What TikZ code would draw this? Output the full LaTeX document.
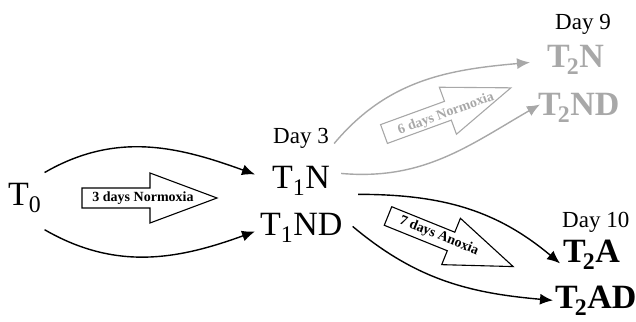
\documentclass[tikz,border=0pt]{standalone}
\usepackage{fontspec}
\setmainfont{Liberation Serif}
\usetikzlibrary{arrows.meta}
\definecolor{faded}{gray}{0.66}
\newcommand{\stagefont}{\fontsize{34}{36}\selectfont}
\newcommand{\dayfont}{\fontsize{23}{25}\selectfont}
\newcommand{\tagfont}{\fontsize{14}{16}\selectfont\bfseries}
\newcommand{\Ttwo}{T\kern-3pt\textsubscript{2}}

\tikzset{
  stage/.style={anchor=base west, inner sep=0pt, font=\stagefont},
  late/.style={stage, font=\stagefont\bfseries},
  day/.style={anchor=base west, inner sep=0pt, font=\dayfont},
  tag/.style={inner sep=0pt, font=\tagfont},
  link/.style={line width=1.4pt, -{Latex[length=13pt,width=11pt]}},
  fat arrow/.pic={
    \draw[pic actions] (0,-10) -- (68,-10) -- (68,-25) -- (135,0) -- (68,25) -- (68,10) -- (0,10) -- cycle;
  }
}

\begin{document}
\begin{tikzpicture}[x=1pt, y=-1pt]
    \useasboundingbox (0,0) rectangle (636,321);

    % stages
    \node[stage] (t0) at (8, 205) {T\textsubscript{0}};
    \node[day] (d3) at (273, 143) {Day 3};
    \node[stage] (t1n) at (272, 188) {T\textsubscript{1}N};
    \node[stage] (t1nd) at (260, 235) {T\textsubscript{1}ND};

    \node[day] (d9) at (555, 30) {Day 9};
    \node[late, faded] (t2n) at (547, 67) {\Ttwo N};
    \node[late, faded] (t2nd) at (538, 115) {\Ttwo ND};

    \node[day] (d10) at (562, 227) {Day 10};
    \node[late] (t2a) at (563, 262) {\Ttwo A};
    \node[late] (t2ad) at (555, 308) {\Ttwo AD};

    % hollow arrows
    \pic[line width=1.1pt] at (82, 198) {fat arrow};
    \node[tag] (n3) at (143, 198) {3 days Normoxia};

    \pic[line width=1.1pt, draw=faded, rotate=20] at (384, 134) {fat arrow};
    \node[tag, faded, rotate=20] (n6) at (446, 114) {6 days Normoxia};

    \pic[line width=1.1pt, rotate=-22] at (388, 216) {fat arrow};
    \node[tag, rotate=-22] (a7) at (439, 236) {7 days Anoxia};

    % transitions
    \draw[link] ([shift={(3,-10)}]t0.north east) to[out=30, in=160] ([shift={(-17,-6)}]t1n.west);
    \draw[link] ([shift={(3,17)}]t0.south east) to[out=-30, in=200] ([shift={(-5,4)}]t1nd.west);

    \draw[link, faded] ([shift={(4,-22)}]t1n.north east) to[out=50, in=185] ([shift={(-17,3)}]t2n.west);
    \draw[link, faded] ([shift={(11,-7)}]t1n.east) to[out=-5, in=210] ([shift={(2,-3)}]t2nd.west);

    \draw[link] ([shift={(28,-1)}]t1n.south east) to[out=0, in=140] ([shift={(-3,9)}]t2a.west);
    \draw[link] ([shift={(10,-1)}]t1nd.east) to[out=-40, in=175] ([shift={(-2,0)}]t2ad.west);

\end{tikzpicture}
\end{document}
